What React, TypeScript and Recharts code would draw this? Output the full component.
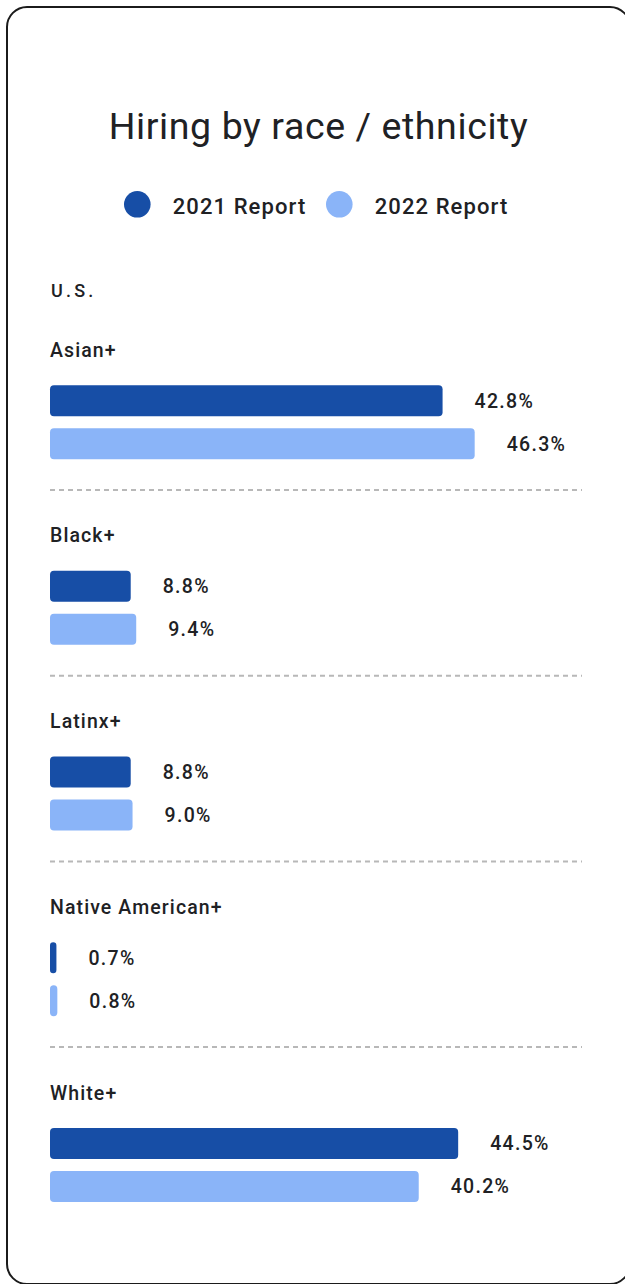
import React from 'react';
import { BarChart, Bar, XAxis, YAxis, LabelList } from 'recharts';

const GROUPS = ['Asian+', 'Black+', 'Latinx+', 'Native American+', 'White+'];
const REPORT_2021 = [42.8, 8.8, 8.8, 0.7, 44.5];
const REPORT_2022 = [46.3, 9.4, 9.0, 0.8, 40.2];
const SERIES = [
  { key: 'r2021', name: '2021 Report', color: '#174EA6' },
  { key: 'r2022', name: '2022 Report', color: '#8AB4F8' },
];
const TITLE = 'Hiring by race / ethnicity';
const REGION = 'U.S.';

const data = GROUPS.map((g, i) => ({ group: g, r2021: REPORT_2021[i], r2022: REPORT_2022[i] }));

const FONT = 'Roboto, "Noto Sans", sans-serif';
const TEXT = '#202124';

const CHART_W = 621;
const CHART_H = 1275;
const LEFT = 42;
const MARGIN = { top: 321.15, right: 47, bottom: 25.35, left: LEFT - 1 };

function GroupTick(props: any) {
  const { y, payload } = props;
  const last = payload.value === GROUPS[GROUPS.length - 1];
  return (
    <g>
      <text x={LEFT} y={y - 65.3} fontFamily={FONT} fontSize={19.5} fontWeight={500} fill={TEXT} textAnchor="start" letterSpacing={1.1}>
        {payload.value}
      </text>
      {!last && (
        <line x1={LEFT} x2={CHART_W - MARGIN.right} y1={y + 68} y2={y + 68} stroke="#B8B8B8" strokeWidth={2} strokeDasharray="5 4" />
      )}
    </g>
  );
}

const fmt = (v: any) => `${Number(v).toFixed(1)}%`;

export default function App() {
  return (
    <div style={{ position: 'absolute', left: 0, top: 0, width: 625, height: 1284, overflow: 'hidden', background: '#fff' }}>
      <div
        style={{
          position: 'absolute',
          left: 6,
          top: 6,
          width: 625,
          height: 1279,
          border: '2px solid #1b1b1b',
          borderRadius: 21,
          boxSizing: 'border-box',
          background: '#fff',
        }}
      >
        <svg width={CHART_W} height={320} style={{ position: 'absolute', left: 0, top: 0 }}>
          <text x={310.5} y={131} textAnchor="middle" fontFamily={FONT} fontSize={37.5} fill={TEXT} letterSpacing={0.6}>
            {TITLE}
          </text>
          {SERIES.map((s, i) => {
            const cx = i === 0 ? 129.3 : 331.3;
            return (
              <g key={s.key}>
                <circle cx={cx} cy={196.3} r={13.3} fill={s.color} />
                <text x={cx + 35.4} y={206} fontFamily={FONT} fontSize={22} fontWeight={500} fill={TEXT} letterSpacing={1.1}>
                  {s.name}
                </text>
              </g>
            );
          })}
          <text x={43} y={289.3} fontFamily={FONT} fontSize={18} fontWeight={500} fill={TEXT} letterSpacing={3.2}>
            {REGION}
          </text>
        </svg>
        <div style={{ position: 'absolute', left: 0, top: 0 }}>
          <BarChart width={CHART_W} height={CHART_H} data={data} layout="vertical" margin={MARGIN} barSize={31} barGap={12}>
            <XAxis type="number" domain={[0, 58]} hide />
            <YAxis type="category" dataKey="group" width={1} axisLine={false} tickLine={false} interval={0} tick={<GroupTick />} />
            {SERIES.map((s) => (
              <Bar key={s.key} dataKey={s.key} name={s.name} fill={s.color} radius={4} isAnimationActive={false}>
                <LabelList
                  dataKey={s.key}
                  position="right"
                  offset={32}
                  formatter={fmt}
                  fill={TEXT}
                  fontFamily={FONT}
                  fontSize={19.5}
                  fontWeight={500}
                  letterSpacing={1.3}
                />
              </Bar>
            ))}
          </BarChart>
        </div>
      </div>
    </div>
  );
}
